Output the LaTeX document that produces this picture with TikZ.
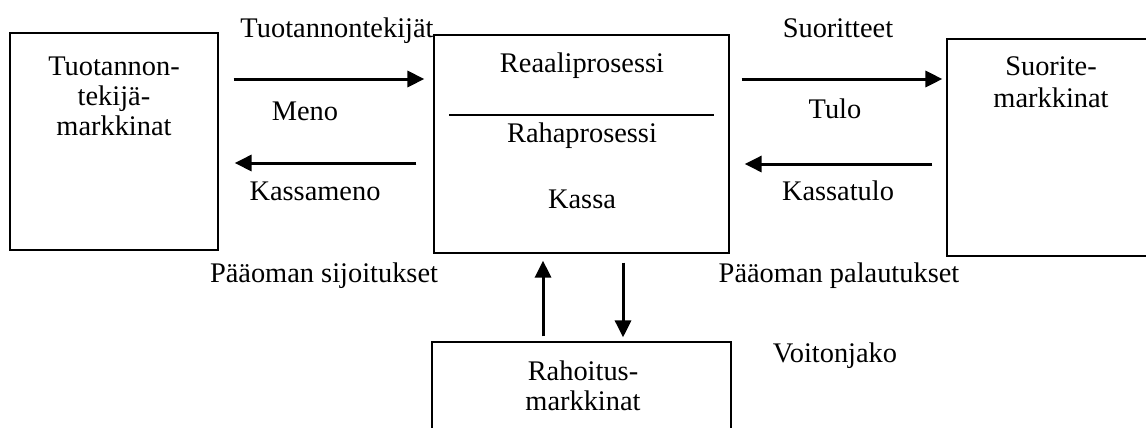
\documentclass[tikz,border=0pt]{standalone}
\usepackage{fontspec}
\setmainfont{Liberation Serif}
\usepackage{tikz}
\usetikzlibrary{
  arrows.meta,
  positioning,
  calc
}
\tikzset{
  %%── markkina- ja prosessilaatikot ─────────────────────────
  mkt/.style = {
    rectangle, draw = black, line width = 0.6pt,
    inner sep = 0pt
  },
  %%── tekstit (monirivisissä base = viimeinen rivi) ──────────
  lbl/.style = {
    anchor = base, inner sep = 0pt, align = center,
    font = \fontsize{14.2}{15}\selectfont
  },
  %%── nuolet ────────────────────────────────────────────────
  arr/.style = {-{Triangle[length=8.5pt, width=8pt]}, line width = 1.5pt},
}

\begin{document}
\begin{tikzpicture}[x = 0.5pt, y = -0.5pt]
  \useasboundingbox (0,0) rectangle (1146,428);
  \clip (0,0) rectangle (1146,428);
  \node[mkt, minimum width=104pt,   minimum height=108.5pt] (tmk)  at (114,141.5) {};
  \node[mkt, minimum width=147.5pt, minimum height=109pt]   (proc) at (581.5,144) {};
  \node[mkt, minimum width=104pt,   minimum height=108.5pt] (smk)  at (1051,147.5) {};
  \node[mkt, minimum width=149.5pt, minimum height=108.5pt] (rmk)  at (581.5,450.5) {};
  \draw[line width=0.8pt]
    ([xshift=8pt]proc.west |- 0,115) -- ([xshift=-8pt]proc.east |- 0,115);

  \node[lbl] (tmkTxt)  at (114,135)  {Tuotannon-\\tekijä-\\markkinat};
  \node[lbl] (reaali)  at (582,72)   {Reaaliprosessi};
  \node[lbl] (raha)    at (582,142)  {Rahaprosessi};
  \node[lbl] (kassa)   at (582,208)  {Kassa};
  \node[lbl, font=\fontsize{14.2}{16}\selectfont] (smkTxt) at (1051,107)
    {Suorite-\\markkinat};
  \node[lbl] (rmkTxt)  at (583,410)  {Rahoitus-\\markkinat};

  \node[lbl] (tekijat) at (337,37)   {Tuotannontekijät};
  \node[lbl] (meno)    at (305,120)  {Meno};
  \node[lbl] (kmeno)   at (315,200)  {Kassameno};
  \node[lbl] (sijoit)  at (324,282)  {Pääoman sijoitukset};
  \node[lbl] (suor)    at (838,37)   {Suoritteet};
  \node[lbl] (tulo)    at (835,118)  {Tulo};
  \node[lbl] (ktulo)   at (838,200)  {Kassatulo};
  \node[lbl] (palaut)  at (839,282)  {Pääoman palautukset};
  \node[lbl] (voitto)  at (835,362)  {Voitonjako};

  \draw[arr, shorten <=7.5pt, shorten >=4.5pt]
    (tmk.east |- 0,79) -- (proc.west |- 0,79);
  \draw[arr, shorten <=8.5pt, shorten >=8pt]
    (proc.west |- 0,163) -- (tmk.east |- 0,163);
  \draw[arr, shorten <=6pt, shorten >=2pt]
    (proc.east |- 0,79) -- (smk.west |- 0,79);
  \draw[arr, shorten <=7pt, shorten >=7.5pt]
    (smk.west |- 0,164) -- (proc.east |- 0,164);
  \draw[arr, shorten <=2.5pt, shorten >=3.5pt]
    (rmk.north -| 543,0) -- (proc.south -| 543,0);
  \draw[arr, shorten <=4.5pt, shorten >=2pt]
    (proc.south -| 623,0) -- (rmk.north -| 623,0);
\end{tikzpicture}
\end{document}
